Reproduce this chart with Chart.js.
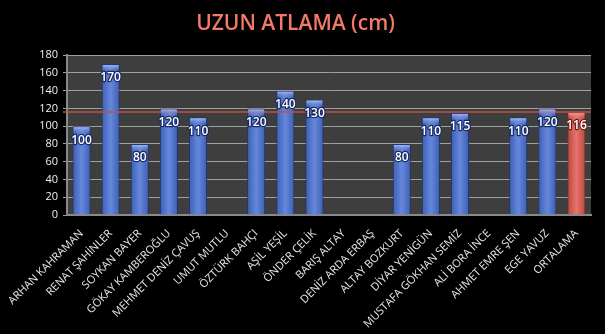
<!DOCTYPE html>
<html><head><meta charset="utf-8">
<script src="https://cdn.jsdelivr.net/npm/chart.js@4"></script>
<style>html,body{margin:0;padding:0;background:#000}#w{width:605px;height:334px}</style>
</head><body><div id="w"><canvas id="c"></canvas></div>
<script>
const categories = ["ARHAN KAHRAMAN","RENAT ŞAHİNLER","SOYKAN BAYER","GÖKAY KAMBEROĞLU","MEHMET DENİZ ÇAVUŞ","UMUT MUTLU","ÖZTÜRK BAHÇI","AŞİL YEŞİL","ÖNDER ÇELİK","BARIŞ ALTAY","DENİZ ARDA ERBAŞ","ALTAY BOZKURT","DİYAR YENİGÜN","MUSTAFA GÖKHAN SEMİZ","ALİ BORA İNCE","AHMET EMRE ŞEN","EGE YAVUZ","ORTALAMA"];
const values = [100,170,80,120,110,null,120,140,130,null,null,80,110,115,null,110,120,116];
const averageValue = 116;
const yTicks = [0,20,40,60,80,100,120,140,160,180];

const isAvg = i => categories[i] === "ORTALAMA";

const bgPlugin = {
  id:'bg',
  beforeDraw(chart){
    const {ctx, chartArea:a} = chart;
    ctx.save();
    ctx.fillStyle='#000';
    ctx.fillRect(0,0,chart.width,chart.height);
    ctx.fillStyle='#3e3e3e';
    ctx.fillRect(a.left,a.top,a.right-a.left,a.bottom-a.top);
    ctx.restore();
  },
  afterDatasetsDraw(chart){
    const {ctx, chartArea:a} = chart;
    const y = chart.scales.y.getPixelForValue(averageValue);
    ctx.save();
    ctx.strokeStyle='#c0504d';
    ctx.lineWidth=1.5;
    ctx.beginPath();ctx.moveTo(a.left-4,y);ctx.lineTo(a.right,y);ctx.stroke();
    const meta = chart.getDatasetMeta(0);
    meta.data.forEach((bar,i)=>{
      const v = values[i];
      if(v==null || !isFinite(bar.y)) return;
      // light cap at top of bar
      const w = bar.width;
      const cap = ctx.createLinearGradient(0,bar.y,0,bar.y+7);
      cap.addColorStop(0, isAvg(i)?'#f4a39c':'#b8c9f4');
      cap.addColorStop(1, isAvg(i)?'rgba(231,117,108,0)':'rgba(102,136,220,0)');
      ctx.fillStyle=cap;
      ctx.fillRect(bar.x-w/2+1,bar.y+1,w-2,7);
    });
    ctx.font='600 12px "Open Sans", sans-serif';
    ctx.textAlign='center';ctx.textBaseline='middle';
    meta.data.forEach((bar,i)=>{
      const v = values[i];
      if(v==null || !isFinite(bar.y)) return;
      const ty = bar.y+14;
      ctx.lineWidth=2.5;
      ctx.lineJoin='round';
      ctx.strokeStyle = isAvg(i)?'#6b1f1a':'#172a66';
      ctx.strokeText(String(v),bar.x,ty);
      ctx.fillStyle='#fff';
      ctx.fillText(String(v),bar.x,ty);
    });
    ctx.restore();
  }
};

new Chart(document.getElementById('c'),{
  type:'bar',
  data:{labels:categories,datasets:[{
    data:values,
    backgroundColor(ctx){
      const chart=ctx.chart, a=chart.chartArea;
      const i = ctx.dataIndex;
      const flat = isAvg(i)?'#d9645b':'#4f74c8';
      if(!a || !chart.scales.x) return flat;
      const cx = chart.scales.x.getPixelForValue(i);
      if(!isFinite(cx)) return flat;
      const g = chart.ctx.createLinearGradient(cx-9,0,cx+9,0);
      if(isAvg(i)){
        g.addColorStop(0,'#b9463f');g.addColorStop(0.5,'#e7756c');g.addColorStop(1,'#b9463f');
      } else {
        g.addColorStop(0,'#3c5fb3');g.addColorStop(0.5,'#6688dc');g.addColorStop(1,'#3c5fb3');
      }
      return g;
    },
    borderColor(ctx){return isAvg(ctx.dataIndex)?'#7a2a25':'#1f3470';},
    borderWidth:{left:1,right:1,top:1,bottom:0},
    barPercentage:0.62,
    categoryPercentage:1
  }]},
  options:{
    responsive:true,maintainAspectRatio:false,animation:false,
    layout:{padding:{left:0,right:14,top:0,bottom:0}},
    plugins:{
      legend:{display:false},tooltip:{enabled:false},
      title:{display:true,text:'UZUN ATLAMA (cm)',color:'#f47a68',
        font:{family:'"Open Sans", sans-serif',size:21,weight:'600'},padding:{top:11,bottom:19}}
    },
    scales:{
      x:{
        grid:{display:false},
        border:{color:'#8a8a8a',width:2},
        ticks:{color:'#e6e6e6',font:{family:'"Open Sans", sans-serif',size:11},maxRotation:45,minRotation:45,autoSkip:false,padding:4},
        afterFit(s){s.height=119;}
      },
      y:{
        min:0,max:180,
        afterBuildTicks(s){s.ticks=yTicks.map(v=>({value:v}));},
        grid:{color:'#a0a0a0',lineWidth:1,drawTicks:true,tickLength:4},
        border:{color:'#8a8a8a',width:2},
        ticks:{color:'#f0f0f0',font:{family:'"Open Sans", sans-serif',size:11},padding:5},
        afterFit(s){s.width=67;}
      }
    }
  },
  plugins:[bgPlugin]
});
</script></body></html>
